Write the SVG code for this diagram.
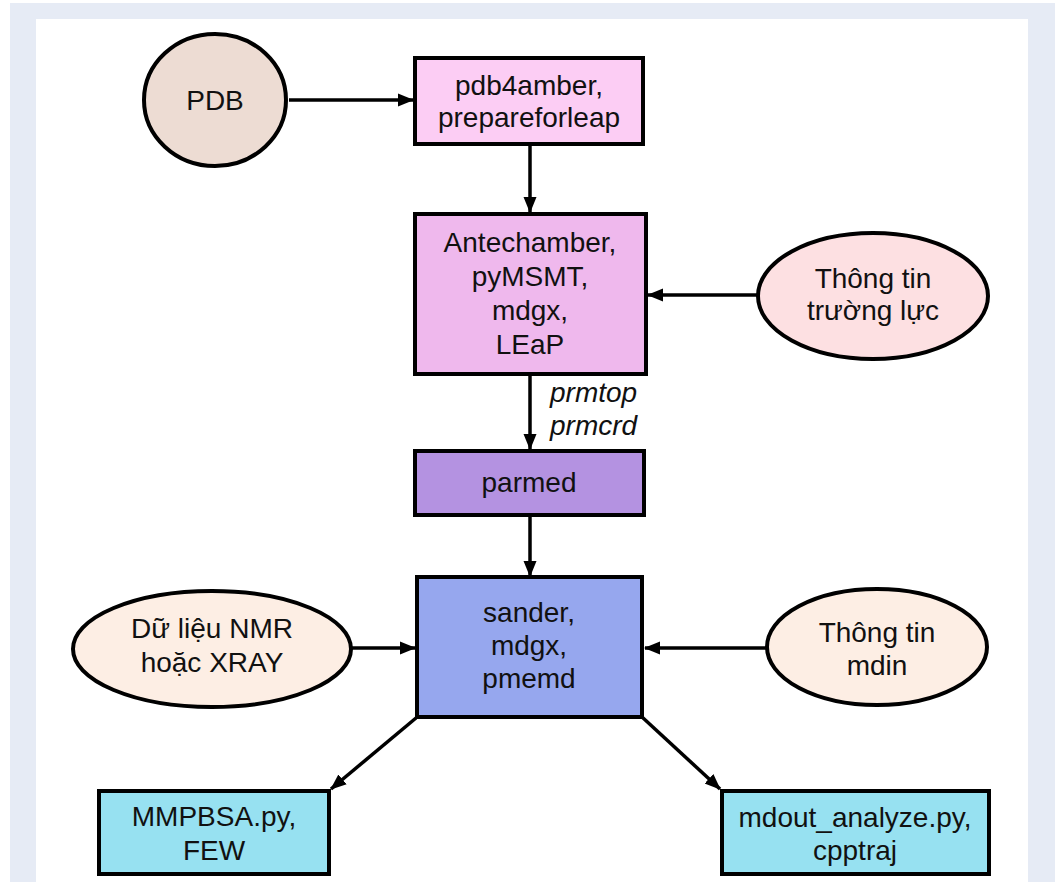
<svg xmlns="http://www.w3.org/2000/svg" width="1058" height="882" viewBox="0 0 1058 882">
<style>
.n{stroke:#000;stroke-width:4}
.t{font-family:"Liberation Sans",Arial,sans-serif;font-size:28px;fill:#111;text-anchor:middle}
.i{font-family:"Liberation Sans",Arial,sans-serif;font-size:28px;fill:#111;font-style:italic}
.c{stroke:#000;stroke-width:3.5;fill:none;marker-end:url(#ah)}
</style>
<defs>
<marker id="ah" markerUnits="userSpaceOnUse" markerWidth="16" markerHeight="16" viewBox="0 0 16 16" refX="15" refY="8" orient="auto">
<path d="M0,1.5 L16,8 L0,14.5 Z" fill="#000"/>
</marker>
</defs>
<rect x="0" y="0" width="1058" height="882" fill="#fff"/>
<rect x="10" y="3" width="1045" height="879" fill="#e6ebf5"/>
<rect x="36" y="19" width="992" height="863" fill="#fff"/>

<g id="connectors">
<line class="c" x1="289" y1="100" x2="413" y2="100"/>
<line class="c" x1="530" y1="145" x2="530" y2="212"/>
<line class="c" x1="757" y1="295" x2="648" y2="295"/>
<line class="c" x1="530" y1="376" x2="530" y2="449"/>
<line class="c" x1="530" y1="517" x2="530" y2="576"/>
<line class="c" x1="352" y1="648" x2="415" y2="648"/>
<line class="c" x1="767" y1="648" x2="645" y2="648"/>
<line class="c" x1="416" y1="718" x2="331" y2="789"/>
<line class="c" x1="642" y1="717" x2="720" y2="789"/>
</g>

<g id="pdb">
<ellipse class="n" cx="215" cy="100" rx="71" ry="66" fill="#eddcd3"/>
<text class="t" x="215" y="110">PDB</text>
</g>
<g id="pdb4amber">
<rect class="n" x="415" y="58" width="228" height="86" fill="#fccdf4"/>
<text class="t" x="529" y="95">pdb4amber,</text>
<text class="t" x="529" y="127">prepareforleap</text>
</g>
<g id="antechamber">
<rect class="n" x="415" y="214" width="231" height="160" fill="#efb8ed"/>
<text class="t" x="530" y="252">Antechamber,</text>
<text class="t" x="530" y="286">pyMSMT,</text>
<text class="t" x="530" y="320">mdgx,</text>
<text class="t" x="530" y="354">LEaP</text>
</g>
<g id="forcefield">
<ellipse class="n" cx="873" cy="296" rx="115" ry="63" fill="#fde0e2"/>
<text class="t" x="873" y="288">Thông tin</text>
<text class="t" x="873" y="320">trường lực</text>
</g>
<g id="prm-label">
<text class="i" x="550" y="402">prmtop</text>
<text class="i" x="550" y="435">prmcrd</text>
</g>
<g id="parmed">
<rect class="n" x="415" y="451" width="229" height="64" fill="#b492e1"/>
<text class="t" x="529" y="492">parmed</text>
</g>
<g id="sander">
<rect class="n" x="417" y="577" width="225" height="140" fill="#96a7ee"/>
<text class="t" x="529" y="622">sander,</text>
<text class="t" x="529" y="655">mdgx,</text>
<text class="t" x="529" y="688">pmemd</text>
</g>
<g id="nmr">
<ellipse class="n" cx="212" cy="649" rx="139" ry="58" fill="#fdeee4"/>
<text class="t" x="212" y="638">Dữ liệu NMR</text>
<text class="t" x="212" y="672">hoặc XRAY</text>
</g>
<g id="mdin">
<ellipse class="n" cx="877" cy="647" rx="110" ry="58" fill="#fdeee4"/>
<text class="t" x="877" y="642">Thông tin</text>
<text class="t" x="877" y="675">mdin</text>
</g>
<g id="mmpbsa">
<rect class="n" x="99" y="791" width="230" height="83" fill="#97e1f1"/>
<text class="t" x="214" y="826">MMPBSA.py,</text>
<text class="t" x="214" y="860">FEW</text>
</g>
<g id="mdout">
<rect class="n" x="722" y="791" width="267" height="83" fill="#97e1f1"/>
<text class="t" x="855" y="827">mdout_analyze.py,</text>
<text class="t" x="855" y="860">cpptraj</text>
</g>
</svg>
